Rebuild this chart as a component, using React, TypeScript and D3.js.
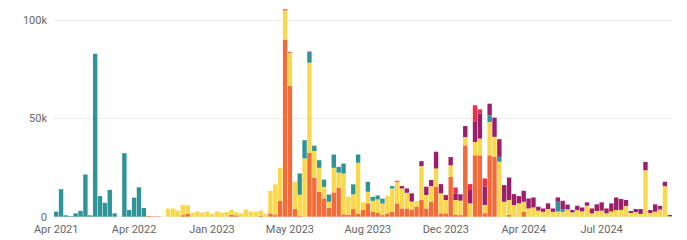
import React from "react";
import * as d3 from "d3";

// values in thousands, one entry per period (127 periods)
const orange = [
  0,0,0,0,0,0,0,0,0,0,
  0,0,0,0,0,0,0,0,0,0.4,
  0.2,0.2,0,0,0,0,0.8,1.6,0,0,
  0,0,0,0,0,0,1.1,0.7,0,0,
  0,0,0.6,0,1.7,0.8,8,90.2,66.6,3.9,
  0.5,0,32.5,19.8,12.7,9.3,4.6,12.4,14.7,1.2,
  1,3.9,1.5,3.4,6.8,2.5,2,0.8,1.7,2.5,
  6.8,4.2,4.2,3.5,5,8.5,4.2,7.6,15.3,1.7,
  1.7,20.3,0.9,0.8,36.4,0,31.3,31.3,1.8,31.3,
  30.5,0,0,0.9,0,0,2.5,0,0,0,
  0,0,0,0,0,0,0,0,0,0,
  0,0,0,0,0,0,0,0,0,0,
  0,0,0,0,0,0,0,
];
const yellow = [
  0,0,0,0,0,0,0,0,0,0,
  0,0,0,0,0,0,0,0,0,0,
  0,0,0,4.1,4.2,3.1,5.2,4.2,2.0,2.7,
  2.1,2.6,1.4,2.7,2.0,2.4,2.4,1.6,1.7,3.7,
  2.6,2.6,2.6,1.5,11.5,15.6,16.9,15.0,17.0,13.9,
  10.7,29.7,46,13.7,12.2,5.9,3,12.5,7.8,20.8,
  9.2,7.5,26,4,5.9,5.6,6.8,5.9,9,11.9,
  11,10.2,8,4.2,3,17.3,6.9,8,9.3,10.2,
  6.8,5.9,7.6,7.4,4.2,6.8,6.8,8.5,4.2,17,
  10.2,28,7.6,7.6,5.9,6.8,5.1,4.2,4.7,3.1,
  2.5,3.9,2.5,2.6,2.5,3.7,2.2,3.4,2.7,5.6,
  1.7,2.9,3.1,1.7,2.6,3.4,3.5,5.5,1.9,2.4,
  1.4,23.7,1.9,2.4,3.5,15.6,0.2,
];
const teal = [
  2.6,14,0.7,0.3,1.7,3,21.5,0.7,83,10.5,
  7.1,13.7,1.7,0,32.4,3.4,9.7,15,4.4,0,
  0,0,0,0,0,0,0,0,0,0,
  0,0,0,0,0,0,0,0,0,0,
  0,0,0,0,0,0,0,0,0,0,
  10.8,9.3,5.4,2.5,3.9,3.7,3.7,6.8,2.9,5.1,
  0,5.1,4.2,0,5.1,2,2,2.5,0,1.2,
  0,0,0,0,0,0,0,0,0,0,
  0,0,0,0,0,0,0,0,0,3.4,
  0,2.5,0,0,0,0,0,0,0,0,
  0,0,0,5,1.2,0,0,0,0,0,
  0,0,0,0,0,0,0,0,0,0,
  0,0,0,0.5,0.5,0,0,
];
const purple = [
  0,0,0,0,0,0,0,0,0,0,
  0,0,0,0,0,0,0,0,0,0,
  0,0,0,0,0,0,0,0,0,0,
  0,0,0,0,0,0,0,0,0,0,
  0,0,0,0,0,0,0,0,0,0,
  0,0,0,0,0,0,0,0,0,0,
  0,0,0,0,0,0,0,0,0,0,
  0,1.2,2.2,4.2,0,2.5,4.2,3.1,8.5,4.7,
  2.5,4.2,3.4,3.2,5.6,6.8,10.2,12.7,9.3,5.9,
  9.8,9,8.5,11.5,5.6,3.7,5.6,5.1,5.1,2,
  1.7,2.9,1.7,2.2,4.4,2.5,1.2,2.2,2,1.7,
  2.5,3.4,4.2,2.5,4.2,6.4,5.5,3,1,1.5,
  2.5,4.2,1.5,3.4,1.5,2.2,0.7,
];
const red = [
  0,0,0,0,0,0,0,0,0,0,
  0,0,0,0,0,0,0,0,0,0,
  0,0,0,0,0,0,0,0,0,0,
  0,0,0,0,0,0,0,0,0,0,
  0,0,0,0,0,0,0,0.5,0.4,0,
  0,0,0.3,0.2,0,0,0,0,0,0,
  0,0,0,0,0,0,0,0,0,0,
  0.5,0,0,0,0,0,0,0,0,0,
  0,0,3,0,0,3,8.5,2.2,4.2,0,
  0,0,0,0,0,0,0,0,0,0,
  0,0,0,0,0,0,0,0,0,0,
  0,0,0,0,0,0,0,0,0,0,
  0,0,0,0,0,0,0,
];

const seriesKeys = ["orange", "yellow", "teal", "purple", "red"];
const seriesColors = ["#f26b38", "#f8d84e", "#2f9498", "#9b1f6c", "#e9304f"];
const seriesValues = [orange, yellow, teal, purple, red];

const tickLabels = ["Apr 2021", "Apr 2022", "Jan 2023", "May 2023", "Aug 2023", "Dec 2023", "Apr 2024", "Jul 2024"];
const tickIndices = [0, 16, 32, 48, 64, 80, 96, 112];
const yTicks = [0, 50, 100];

export default function App() {
  const W = 687, H = 240;
  const periods = orange.map((_, i) => i);
  const rows = periods.map((i) => {
    const r: any = { i };
    seriesKeys.forEach((k, s) => (r[k] = seriesValues[s][i]));
    return r;
  });
  const stack = d3.stack().keys(seriesKeys)(rows);
  const x = d3.scaleBand<number>().domain(periods).range([54, 672]).paddingInner(0.1).paddingOuter(0);
  const y = d3.scaleLinear().domain([0, 100]).range([216.7, 20.5]);
  const font = "Roboto, 'Open Sans', sans-serif";
  return (
    <svg width={W} height={H} style={{ position: "absolute", left: 0, top: 0 }} fontFamily={font}>
      {yTicks.map((t) => (
        <g key={t}>
          <line x1={54} x2={672} y1={y(t)} y2={y(t)} stroke="#e6edef" strokeWidth={1} />
          <text x={47} y={y(t)} dy="0.35em" textAnchor="end" fontSize={11} fill="#666">
            {t === 0 ? "0" : `${t}k`}
          </text>
        </g>
      ))}
      {stack.map((layer, s) => (
        <g key={layer.key} fill={seriesColors[s]}>
          {layer.map((d: any, i: number) => {
            const h = y(d[0]) - y(d[1]);
            if (h <= 0) return null;
            return <rect key={i} x={x(i)} width={x.bandwidth()} y={y(d[1])} height={h} />;
          })}
        </g>
      ))}
      {tickIndices.map((ti, k) => (
        <text key={ti} x={(x(ti) as number) + x.bandwidth() / 2} y={233} textAnchor="middle" fontSize={11} fill="#666">
          {tickLabels[k]}
        </text>
      ))}
    </svg>
  );
}
